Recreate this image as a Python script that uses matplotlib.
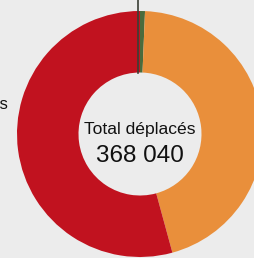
import matplotlib.pyplot as plt

# données (répartition des déplacés)
labels = ["Autres", "Rapatriés", "Réfugiés"]
values = [2400, 166000, 199640]
colors = ["#4a6b3c", "#E98F3B", "#C1121F"]
total_label = "Total déplacés"
total_value = "368 040"

W, H = 255, 258
fig = plt.figure(figsize=(W / 100, H / 100), dpi=100)
fig.patch.set_facecolor("#ECECEC")
ax = fig.add_axes([0, 0, 1, 1])
ax.set_facecolor("#ECECEC")

cx, cy = 140, H - 134
R = 123
ax.pie(values, colors=colors, startangle=90, counterclock=False,
       center=(cx, cy), radius=R,
       wedgeprops=dict(width=R * 0.5, linewidth=0))

# trait de rappel vers l'étiquette du haut
ax.plot([cx - 1.5, cx - 1.5], [cy + R * 0.5, H + 5], color="#3a3f35", linewidth=1.2)

ax.text(cx, H - 129, total_label, ha="center", va="center",
        fontsize=12.6, family="Liberation Sans", color="#111111")
ax.text(cx, H - 156, total_value, ha="center", va="center",
        fontsize=17.5, family="Liberation Sans", color="#111111")

# étiquette coupée à gauche
ax.text(9, H - 104, labels[2], ha="right", va="center",
        fontsize=12, family="Liberation Sans", color="#111111")

ax.set_xlim(0, W)
ax.set_ylim(0, H)
ax.set_aspect("equal")
ax.axis("off")

plt.savefig("out.png", dpi=100, facecolor=fig.get_facecolor())
